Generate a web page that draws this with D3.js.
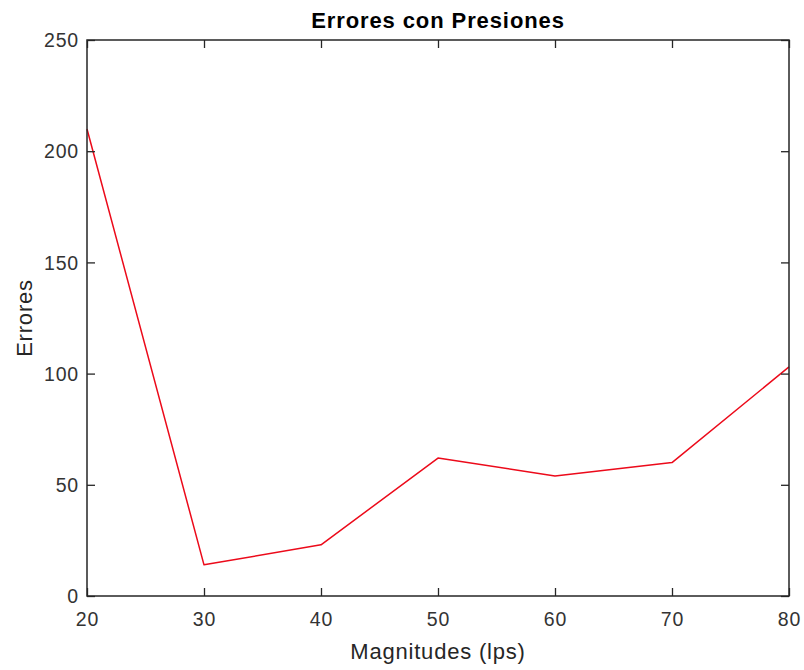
<!DOCTYPE html>
<html>
<head>
<meta charset="utf-8">
<script src="https://cdn.jsdelivr.net/npm/d3@7"></script>
<style>
  html, body { margin: 0; padding: 0; background: #fff; }
  svg { display: block; }
  text { font-family: "Liberation Sans", Arial, Helvetica, sans-serif; }
</style>
</head>
<body>
<script>
// Errors measured at each magnitude
const magnitudes = [20, 30, 40, 50, 60, 70, 80];
const errores = [210, 14, 23, 62, 54, 60, 103];
const xTicks = [20, 30, 40, 50, 60, 70, 80];
const yTicks = [0, 50, 100, 150, 200, 250];

const W = 804, H = 670;
const plotLeft = 87, plotRight = 789, plotTop = 40, plotBottom = 596;
const axisColor = "#262626";
const tickLen = 8;

const svg = d3.select("body").append("svg")
  .attr("width", W).attr("height", H);

const x = d3.scaleLinear().domain([20, 80]).range([plotLeft, plotRight]);
const y = d3.scaleLinear().domain([0, 250]).range([plotBottom, plotTop]);

// data line (drawn first so the box sits on top)
const line = d3.line().x((d, i) => x(magnitudes[i])).y(d => y(d));
svg.append("path")
  .datum(errores)
  .attr("d", line)
  .attr("fill", "none")
  .attr("stroke", "#ec0a1a")
  .attr("stroke-width", 1.5)
  .attr("stroke-linejoin", "round");

// axes: inward ticks on all four sides
function styleAxis(g) {
  g.select(".domain").remove();
  g.selectAll(".tick line").attr("stroke", axisColor).attr("stroke-width", 1.3);
  g.selectAll(".tick text")
    .attr("fill", "#333")
    .attr("font-size", 19.5)
    .attr("letter-spacing", "0.8px");
}

const xb = svg.append("g").attr("transform", `translate(0,${plotBottom})`)
  .call(d3.axisBottom(x).tickValues(xTicks).tickSizeInner(-tickLen).tickSizeOuter(0).tickPadding(0));
styleAxis(xb);
xb.selectAll(".tick text").attr("y", 30).attr("dy", 0);

const xt = svg.append("g").attr("transform", `translate(0,${plotTop})`)
  .call(d3.axisTop(x).tickValues(xTicks).tickSizeInner(-tickLen).tickSizeOuter(0).tickFormat(""));
styleAxis(xt);

const yl = svg.append("g").attr("transform", `translate(${plotLeft},0)`)
  .call(d3.axisLeft(y).tickValues(yTicks).tickSizeInner(-tickLen).tickSizeOuter(0).tickPadding(0));
styleAxis(yl);
yl.selectAll(".tick text").attr("x", -8).attr("dy", "0.55em").attr("y", -4);

const yr = svg.append("g").attr("transform", `translate(${plotRight},0)`)
  .call(d3.axisRight(y).tickValues(yTicks).tickSizeInner(-tickLen).tickSizeOuter(0).tickFormat(""));
styleAxis(yr);

// axes box
svg.append("rect")
  .attr("x", plotLeft).attr("y", plotTop)
  .attr("width", plotRight - plotLeft).attr("height", plotBottom - plotTop)
  .attr("fill", "none")
  .attr("stroke", axisColor)
  .attr("stroke-width", 1.5);

// title
svg.append("text")
  .attr("x", (plotLeft + plotRight) / 2).attr("y", 28)
  .attr("text-anchor", "middle")
  .attr("font-size", 22)
  .attr("font-weight", "bold")
  .attr("letter-spacing", "0.9px")
  .attr("fill", "#000")
  .text("Errores con Presiones");

// x axis label
svg.append("text")
  .attr("x", (plotLeft + plotRight) / 2).attr("y", 659)
  .attr("text-anchor", "middle")
  .attr("font-size", 22)
  .attr("letter-spacing", "0.8px")
  .attr("fill", axisColor)
  .text("Magnitudes (lps)");

// y axis label
svg.append("text")
  .attr("transform", `translate(32,${(plotTop + plotBottom) / 2}) rotate(-90)`)
  .attr("text-anchor", "middle")
  .attr("font-size", 22)
  .attr("letter-spacing", "0.8px")
  .attr("fill", axisColor)
  .text("Errores");
</script>
</body>
</html>
